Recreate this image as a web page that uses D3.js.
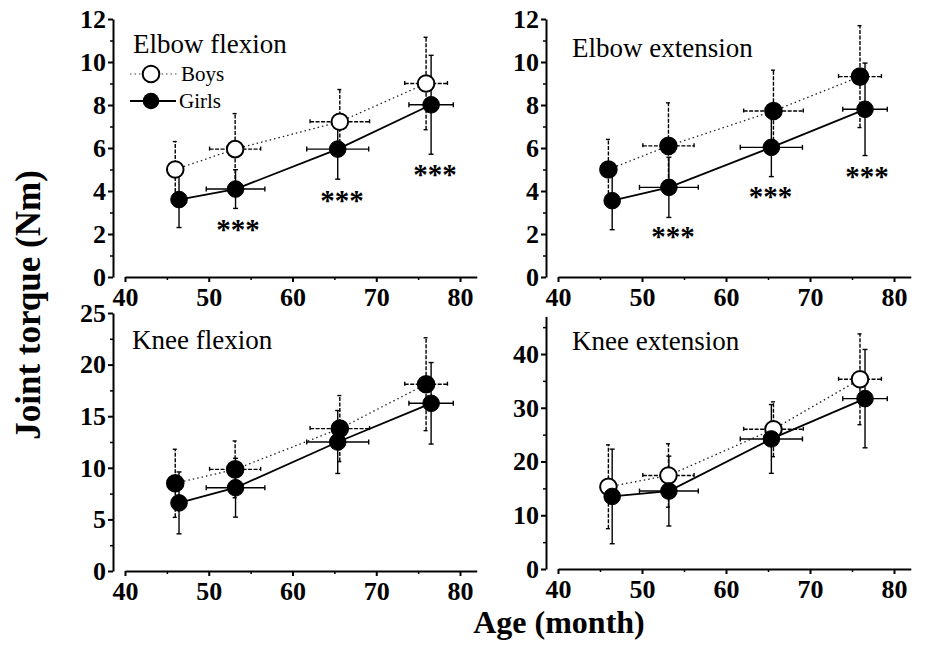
<!DOCTYPE html>
<html>
<head>
<meta charset="utf-8">
<script src="https://cdn.jsdelivr.net/npm/d3@7"></script>
<style>
  html, body { margin: 0; padding: 0; background: #fff; }
  svg { display: block; }
  text { font-family: "Liberation Serif", "Times New Roman", serif; fill: #000; }
</style>
</head>
<body>
<svg id="chart" width="937" height="651"></svg>
<script>
// ---------- data ----------
const panelTitles = ["Elbow flexion", "Elbow extension", "Knee flexion", "Knee extension"];
const yMaxes = [12, 12, 25, 47];
const yTickValues = [
  [0, 2, 4, 6, 8, 10, 12],
  [0, 2, 4, 6, 8, 10, 12],
  [0, 5, 10, 15, 20, 25],
  [0, 10, 20, 30, 40]
];
const yMinorTickValues = [
  [1, 3, 5, 7, 9, 11],
  [1, 3, 5, 7, 9, 11],
  [2.5, 7.5, 12.5, 17.5, 22.5],
  [5, 15, 25, 35, 45]
];
const xTickValues = [40, 50, 60, 70, 80];
const xMinorTickValues = [45, 55, 65, 75];

// age (month), mean and SD
const boysAge = [46.0, 53.15, 65.65, 75.95];
const boysAgeSD = [0.4, 3.05, 3.55, 2.55];
const girlsAge = [46.45, 53.2, 65.4, 76.55];
const girlsAgeSD = [0.4, 3.5, 3.7, 2.65];

// joint torque (Nm) mean and SD, per panel
const boysTorque = [
  [5.0, 5.95, 7.22, 9.0],
  [5.0, 6.1, 7.72, 9.32],
  [8.5, 9.85, 13.8, 18.1],
  [15.3, 17.4, 26.0, 35.3]
];
const boysTorqueSD = [
  [1.3, 1.65, 1.5, 2.15],
  [1.4, 2.0, 1.9, 2.37],
  [3.3, 2.75, 3.2, 4.5],
  [7.8, 5.9, 5.1, 8.45]
];
const girlsTorque = [
  [3.6, 4.09, 5.95, 8.01],
  [3.55, 4.17, 6.03, 7.8],
  [6.6, 8.07, 12.5, 16.25],
  [13.5, 14.5, 24.2, 31.7]
];
const girlsTorqueSD = [
  [1.3, 0.9, 1.4, 2.3],
  [1.35, 1.4, 1.36, 2.15],
  [3.0, 2.85, 3.05, 3.95],
  [8.8, 6.5, 6.4, 9.15]
];

// significance marks (panel index, age, torque position)
const starPanel = [0, 0, 0, 1, 1, 1];
const starAge = [53.5, 65.9, 77.0, 53.7, 65.3, 76.8];
const starTorque = [2.35, 3.7, 4.9, 2.0, 3.85, 4.8];
const starLabel = "***";

const legendLabels = ["Boys", "Girls"];
const yAxisTitle = "Joint torque (Nm)";
const xAxisTitle = "Age (month)";

// ---------- layout / style (not data) ----------
const layouts = [
  { xr: [125, 476.75], yr: [277, 19], title: [133, 53] },
  { xr: [558, 910.8], yr: [277, 19], title: [572, 57] },
  { xr: [125, 476.75], yr: [571, 313], title: [132, 349] },
  { xr: [558, 910.8], yr: [569, 316.4], title: [572, 350] }
];
const boysFill = ["#fff", "#000", "#000", "#fff"];
const R = 8.3;
const tickFont = 26;

const svg = d3.select("#chart");
svg.append("rect").attr("width", 937).attr("height", 651).attr("fill", "#fff");

panelTitles.forEach((title, p) => {
  const L = layouts[p];
  const x = d3.scaleLinear().domain([40, 82]).range(L.xr);
  const y = d3.scaleLinear().domain([0, yMaxes[p]]).range([L.yr[0], L.yr[1]]);
  const g = svg.append("g");
  const yAxisX = x(40) - 12;

  // x axis
  const xa = g.append("g").attr("transform", `translate(0,${y(0)})`)
    .call(d3.axisBottom(x).tickValues(xTickValues).tickFormat(d3.format("d"))
      .tickSize(5).tickSizeOuter(0).tickPadding(6));
  xa.attr("font-family", null);
  xa.select(".domain").attr("stroke-width", 2);
  xa.selectAll(".tick line").attr("stroke-width", 2);
  xa.selectAll("text").attr("font-size", tickFont).attr("font-weight", "bold");
  g.append("g").attr("transform", `translate(0,${y(0)})`)
    .call(d3.axisBottom(x).tickValues(xMinorTickValues).tickFormat("").tickSize(3).tickSizeOuter(0))
    .call(s => s.select(".domain").remove())
    .selectAll(".tick line").attr("stroke-width", 1.5);

  // y axis
  const ya = g.append("g").attr("transform", `translate(${yAxisX},0)`)
    .call(d3.axisLeft(y).tickValues(yTickValues[p]).tickFormat(d3.format("d"))
      .tickSize(5).tickSizeOuter(0).tickPadding(2));
  ya.attr("font-family", null);
  ya.select(".domain").attr("stroke-width", 2);
  ya.selectAll(".tick line").attr("stroke-width", 2);
  ya.selectAll("text").attr("font-size", tickFont).attr("font-weight", "bold");
  g.append("g").attr("transform", `translate(${yAxisX},0)`)
    .call(d3.axisLeft(y).tickValues(yMinorTickValues[p]).tickFormat("").tickSize(3).tickSizeOuter(0))
    .call(s => s.select(".domain").remove())
    .selectAll(".tick line").attr("stroke-width", 1.5);

  // panel title
  g.append("text").attr("x", L.title[0]).attr("y", L.title[1])
    .attr("font-size", 27).text(title);

  const boys = boysAge.map((a, i) => ({ a, asd: boysAgeSD[i], v: boysTorque[p][i], sd: boysTorqueSD[p][i] }));
  const girls = girlsAge.map((a, i) => ({ a, asd: girlsAgeSD[i], v: girlsTorque[p][i], sd: girlsTorqueSD[p][i] }));

  const line = d3.line().x(d => x(d.a)).y(d => y(d.v));
  g.append("path").datum(boys).attr("d", line).attr("fill", "none")
    .attr("stroke", "#222").attr("stroke-width", 1.3).attr("stroke-dasharray", "1.5,3");
  g.append("path").datum(girls).attr("d", line).attr("fill", "none")
    .attr("stroke", "#000").attr("stroke-width", 1.8);

  function errorBars(data, dash) {
    const eg = g.append("g").attr("stroke", "#000").attr("stroke-width", 1.4)
      .attr("stroke-dasharray", dash);
    data.forEach(d => {
      eg.append("line").attr("x1", x(d.a)).attr("x2", x(d.a))
        .attr("y1", y(d.v - d.sd)).attr("y2", y(d.v + d.sd));
      [d.v - d.sd, d.v + d.sd].forEach(e => {
        eg.append("line").attr("x1", x(d.a) - 2.5).attr("x2", x(d.a) + 2.5)
          .attr("y1", y(e)).attr("y2", y(e)).attr("stroke-dasharray", null);
      });
      if (d.asd > 1) {
        eg.append("line").attr("x1", x(d.a - d.asd)).attr("x2", x(d.a + d.asd))
          .attr("y1", y(d.v)).attr("y2", y(d.v));
        [d.a - d.asd, d.a + d.asd].forEach(e => {
          eg.append("line").attr("x1", x(e)).attr("x2", x(e))
            .attr("y1", y(d.v) - 2.5).attr("y2", y(d.v) + 2.5).attr("stroke-dasharray", null);
        });
      }
    });
  }
  errorBars(boys, "4,1.5");
  errorBars(girls, null);

  g.append("g").selectAll("circle").data(boys).join("circle")
    .attr("cx", d => x(d.a)).attr("cy", d => y(d.v)).attr("r", R)
    .attr("fill", boysFill[p]).attr("stroke", "#000").attr("stroke-width", 2);
  g.append("g").selectAll("circle").data(girls).join("circle")
    .attr("cx", d => x(d.a)).attr("cy", d => y(d.v)).attr("r", R)
    .attr("fill", "#000").attr("stroke", "#000").attr("stroke-width", 1);

  // stars
  starPanel.forEach((sp, i) => {
    if (sp !== p) return;
    g.append("text").attr("x", x(starAge[i])).attr("y", y(starTorque[i]))
      .attr("dy", "0.42em").attr("text-anchor", "middle")
      .attr("font-size", 29).attr("font-weight", "bold").text(starLabel);
  });

  // legend in first panel
  if (p === 0) {
    const lg = g.append("g");
    lg.append("line").attr("x1", 130).attr("x2", 178).attr("y1", 74).attr("y2", 74)
      .attr("stroke", "#444").attr("stroke-width", 1.2).attr("stroke-dasharray", "1.5,3");
    lg.append("circle").attr("cx", 151).attr("cy", 74).attr("r", R)
      .attr("fill", "#fff").attr("stroke", "#000").attr("stroke-width", 2);
    lg.append("text").attr("x", 181).attr("y", 81).attr("font-size", 21).text(legendLabels[0]);
    lg.append("line").attr("x1", 130).attr("x2", 176).attr("y1", 101).attr("y2", 101)
      .attr("stroke", "#000").attr("stroke-width", 1.8);
    lg.append("circle").attr("cx", 151).attr("cy", 101).attr("r", R).attr("fill", "#000");
    lg.append("text").attr("x", 179).attr("y", 108).attr("font-size", 21).text(legendLabels[1]);
  }
});

// axis titles
svg.append("text").attr("transform", "translate(40,305) rotate(-90)")
  .attr("text-anchor", "middle").attr("font-size", 35).attr("font-weight", "bold").text(yAxisTitle);
svg.append("text").attr("x", 559).attr("y", 633)
  .attr("text-anchor", "middle").attr("font-size", 32).attr("font-weight", "bold").text(xAxisTitle);
</script>
</body>
</html>
